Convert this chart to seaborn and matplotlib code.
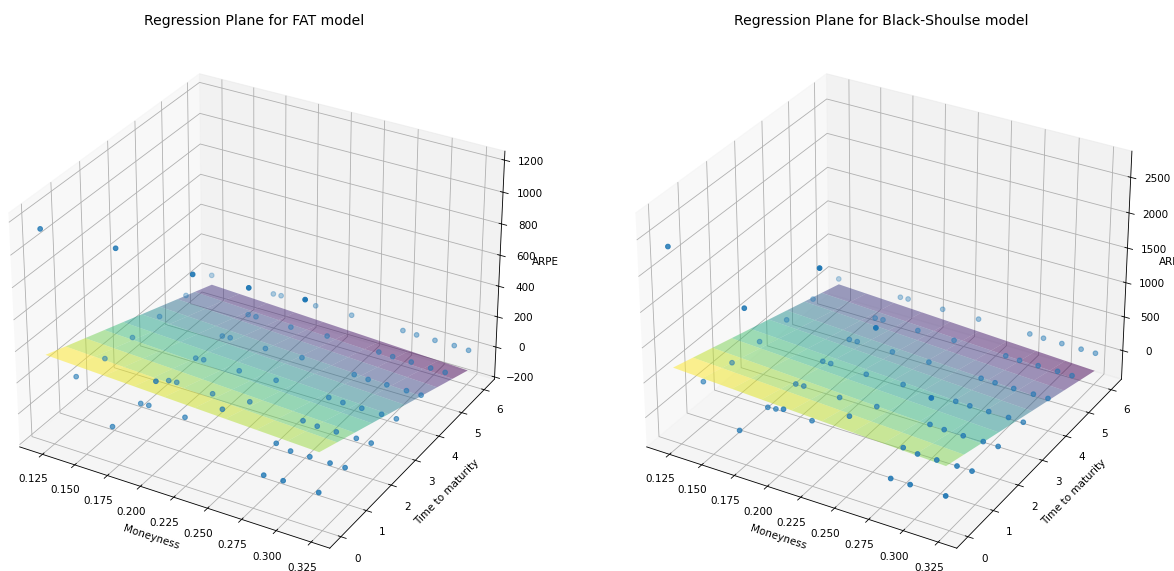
import numpy as np
import matplotlib
matplotlib.use("Agg")
import matplotlib.pyplot as plt
import seaborn as sns

# moneyness levels and maturities of the option grid
moneyness = [0.1207, 0.1706, 0.1768, 0.2043, 0.2325, 0.2722, 0.2827, 0.2967, 0.3113, 0.3221]
maturity = [6.21, 5.17, 4.13, 3.09, 2.06, 1.02, 0.0]

# ARPE, one row per moneyness level, one column per maturity above
arpe_fat = [
    [-16, -7, -1, 9, 21, 58, 1134],
    [-22, -14, -7, -1, 5, 14, 22],
    [-19, -13, -3, 4, 10, 18, 1148],
    [-20, -14, -5, 2, 7, 14, 400],
    [-14, -3, 6, 13, 29, 141, 1124],
    [-18, -9, -3, 4, 12, 30, 1140],
    [-21, -13, -8, -1, 5, 9, 19],
    [-22, -13, -7, -1, 6, 11, 23],
    [-20, -15, -7, -1, 4, 11, 1166],
    [-24, -16, -8, -2, 3, 12, 20],
]
arpe_bs = [
    [-37, -17, 1, 13, 40, 110, 2351],
    [-46, -29, -14, 5, 15, 29, 48],
    [-39, -22, -11, 7, 21, 42, 1808],
    [-44, -29, -8, 7, 15, 35, 554],
    [-37, -17, 2, 20, 49, 270, 2653],
    [-38, -23, -8, 7, 27, 59, 2071],
    [-43, -30, -13, 3, 15, 32, 49],
    [-44, -29, -16, 3, 11, 32, 50],
    [-45, -28, -13, 4, 16, 36, 1346],
    [-44, -30, -13, 0, 12, 31, 50],
]

W, H = 1174, 571
fig = plt.figure(figsize=(W / 75, H / 75), dpi=75)
blue = sns.color_palette("tab10")[0]
cmap = sns.color_palette("viridis", as_cmap=True)


def panel(cx, arpe, zlim, title):
    S = 552
    ax = fig.add_axes([(cx - S / 2) / W, (H - 31 - S) / H, S / W, S / H], projection="3d")
    m, t = np.meshgrid(moneyness, maturity, indexing="ij")
    z = np.array(arpe, dtype=float)
    ax.scatter(m.ravel(), t.ravel(), z.ravel(), color=blue)

    # least squares plane through the points
    A = np.column_stack([np.ones(m.size), m.ravel(), t.ravel()])
    coef = np.linalg.lstsq(A, z.ravel(), rcond=None)[0]
    xx, yy = np.meshgrid(np.linspace(min(moneyness), max(moneyness), 10),
                         np.linspace(min(maturity), max(maturity), 10))
    zz = coef[0] + coef[1] * xx + coef[2] * yy
    ax.plot_surface(xx, yy, zz, cmap=cmap, alpha=0.5)

    ax.set_xlim(0.1072, 0.3382)
    ax.set_ylim(-0.43, 6.47)
    ax.set_zlim(*zlim)
    ax.tick_params(axis="x", pad=6)
    ax.tick_params(axis="y", pad=6)
    ax.tick_params(axis="z", pad=7.5)
    ax.set_xlabel("Moneyness", labelpad=7)
    ax.set_ylabel("Time to maturity", labelpad=7)
    ax.set_zlabel("ARPE", labelpad=6)
    ax.set_title(title, fontsize=13.4)
    return ax


panel(254, arpe_fat, (-214.5, 1255.5), "Regression Plane for FAT model")
panel(881, arpe_bs, (-426.5, 2863.5), "Regression Plane for Black-Shoulse model")
fig.savefig("out.png", dpi=75)
